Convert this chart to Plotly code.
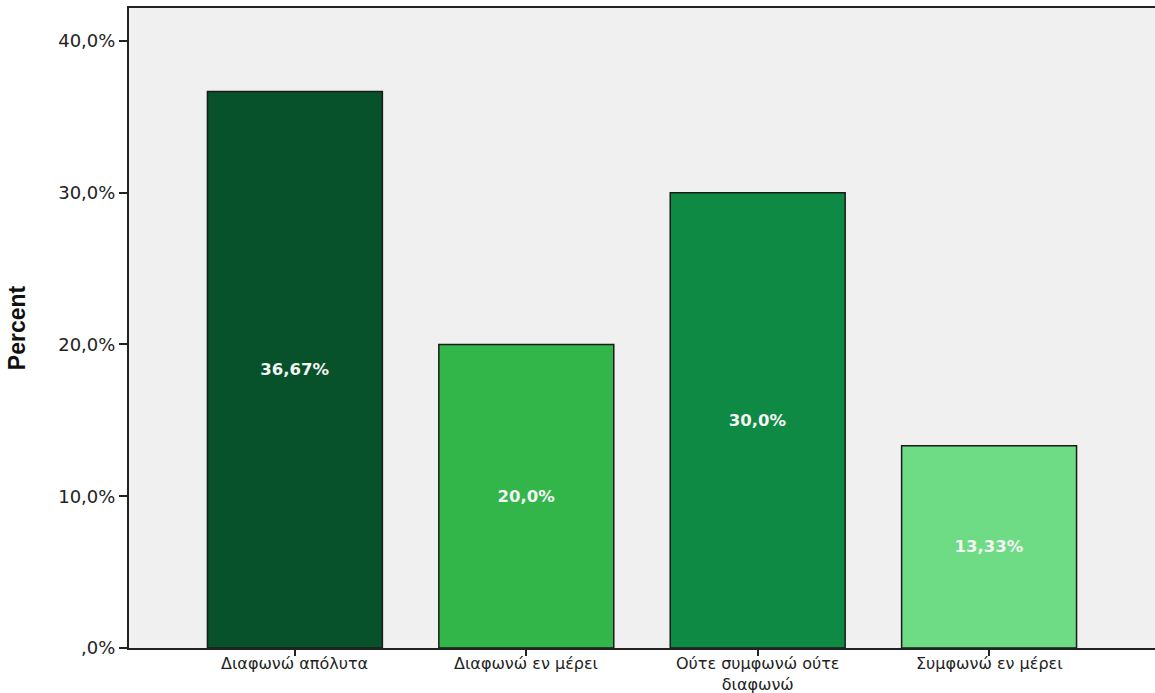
import plotly.graph_objects as go

categories = ["Διαφωνώ απόλυτα", "Διαφωνώ εν μέρει", "Ούτε συμφωνώ ούτε<br>διαφωνώ", "Συμφωνώ εν μέρει"]
percent = [36.67, 20.0, 30.0, 13.33]
bar_labels = ["36,67%", "20,0%", "30,0%", "13,33%"]
bar_colors = ["#07522b", "#32b64a", "#0f8a45", "#6edc84"]
y_tick_values = [0, 10, 20, 30, 40]
y_tick_labels = [",0%", "10,0%", "20,0%", "30,0%", "40,0%"]

fig = go.Figure(
    go.Bar(
        x=categories,
        y=percent,
        text=bar_labels,
        textposition="inside",
        insidetextanchor="middle",
        textangle=0,
        textfont=dict(family="DejaVu Sans", size=16.5, color="#f4f4f4", weight="bold"),
        marker=dict(color=bar_colors, line=dict(color="#1a1a1a", width=1.5)),
        width=0.756,
        hoverinfo="skip",
    )
)

# category names sit tight under the axis ticks
for cat in categories:
    fig.add_annotation(
        x=cat,
        y=0,
        xref="x",
        yref="paper",
        text=cat,
        showarrow=False,
        yanchor="top",
        yshift=-4,
        font=dict(family="DejaVu Sans", size=16, color="#222"),
    )

fig.update_layout(
    width=1155,
    height=693,
    margin=dict(l=129, r=0, t=8, b=45),
    paper_bgcolor="white",
    plot_bgcolor="#f0f0f0",
    showlegend=False,
    font=dict(family="DejaVu Sans", size=17, color="#222"),
)

fig.update_xaxes(
    range=[-0.717, 3.717],
    automargin=False,
    showline=True,
    linecolor="#222",
    linewidth=2,
    mirror=True,
    ticks="outside",
    ticklen=6,
    tickwidth=2,
    tickcolor="#222",
    showgrid=False,
    showticklabels=False,
)

fig.update_yaxes(
    range=[0, 42.17],
    automargin=False,
    tickvals=y_tick_values,
    ticktext=y_tick_labels,
    showline=True,
    linecolor="#222",
    linewidth=2,
    ticks="outside",
    ticklen=8,
    tickwidth=2,
    tickcolor="#222",
    showgrid=False,
    zeroline=False,
    tickfont=dict(family="DejaVu Sans", size=18, color="#222"),
    title=dict(text="<b>Percent</b>", font=dict(family="Liberation Sans", size=23, color="#111"), standoff=26),
)

fig.write_html("out.html")
